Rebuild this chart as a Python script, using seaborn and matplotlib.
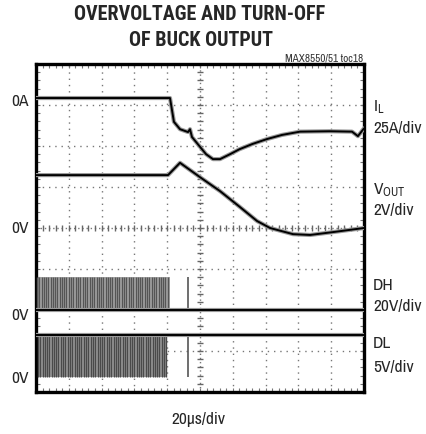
import matplotlib
matplotlib.use("Agg")
import matplotlib.pyplot as plt
import numpy as np
import pandas as pd
import seaborn as sns

# ---------------- data (time in us, level in scope divisions from bottom) ----------------
il_t = [0, 81.7, 84.1, 87.8, 92.7, 93.9, 95.1, 100.0, 103.7, 107.9, 112.2, 118.3,
        124.0, 132.0, 140.9, 150.0, 161.0, 179.0, 192.7, 196.3, 200.0]
il_div = [7.17, 7.17, 6.59, 6.41, 6.34, 6.41, 6.22, 5.98, 5.80, 5.68, 5.68, 5.80,
          5.92, 6.05, 6.17, 6.27, 6.35, 6.36, 6.35, 6.24, 6.43]

vout_t = [0, 80.5, 87.8, 100.0, 112.2, 124.4, 134.8, 142.7, 156.7, 167.1, 181.1, 200.0]
vout_div = [5.29, 5.29, 5.59, 5.24, 4.90, 4.51, 4.17, 4.00, 3.85, 3.83, 3.90, 4.00]

dh_low, dh_high = 2.0, 2.8
dl_low, dl_high = 0.37, 1.39
dh_sw_end = 81.5
dl_sw_end = 80.0
stray_pulse = 92.7

dh_edges = [0.8, 2.1, 3.5, 4.6, 6.2, 7.4, 8.9, 10.3, 11.5, 13.0, 14.6, 15.8, 17.3, 18.5,
            20.1, 21.4, 22.8, 24.3, 25.5, 27.0, 28.6, 29.8, 31.2, 32.7, 34.0, 35.4, 36.9,
            38.2, 39.6, 41.1, 42.4, 43.8, 45.3, 46.6, 48.0, 49.5, 50.8, 52.3, 53.6, 55.1,
            56.5, 57.9, 59.2, 60.7, 62.1, 63.4, 64.9, 66.3, 67.6, 69.0, 70.5, 71.9, 73.2,
            74.7, 76.0, 77.5, 78.8, 80.3]
dl_edges = [1.3, 2.7, 4.0, 5.4, 6.9, 8.1, 9.6, 10.9, 12.3, 13.7, 15.2, 16.5, 17.9, 19.3,
            20.7, 22.0, 23.6, 24.9, 26.3, 27.7, 29.1, 30.5, 31.9, 33.3, 34.7, 36.1, 37.5,
            38.9, 40.3, 41.7, 43.1, 44.5, 45.9, 47.3, 48.7, 50.1, 51.5, 52.9, 54.3, 55.7,
            57.1, 58.5, 59.9, 61.3, 62.7, 64.1, 65.5, 66.9, 68.3, 69.7, 71.1, 72.5, 73.9,
            75.3, 76.7, 78.1, 79.4]

sns.set_theme(style="white")
plt.rcParams['font.family'] = ['Archivo Narrow', 'DejaVu Sans']
title_family = ['Roboto Condensed', 'Barlow Semi Condensed', 'DejaVu Sans']

W, H = 426, 435
fig = plt.figure(figsize=(W / 100, H / 100), dpi=100)
ax = fig.add_axes([36 / W, 1 - 393 / H, 328 / W, 328 / H])
ax.set_xlim(0, 200)
ax.set_ylim(0, 8)
# small graticule ticks along the frame
ax.set_xticks(np.arange(0, 200.1, 4))
ax.set_yticks(np.arange(0, 8.01, 0.2))
ax.tick_params(axis='both', which='both', direction='in', length=3, width=0.8,
               color='#777777', top=True, right=True, bottom=True, left=True,
               labelbottom=False, labelleft=False)
for s in ax.spines.values():
    s.set_linewidth(2.4)
    s.set_color('black')

# graticule
dots = (0, (1, 3.5))
for i in range(1, 10):
    if i != 5:
        ax.axvline(i * 20, color='#777777', lw=1.0, ls=dots, zorder=1)
for j in range(1, 8):
    if j != 4:
        ax.axhline(j, color='#777777', lw=1.0, ls=dots, zorder=1)
ax.axvline(100, color='#777777', lw=1.0, ls=(0, (1, 2)), zorder=1)
ax.axhline(4, color='#777777', lw=1.0, ls=(0, (1, 2)), zorder=1)
minor_x = np.arange(0, 200.1, 4)
minor_y = np.arange(0, 8.01, 0.2)
ax.plot(minor_x, np.full_like(minor_x, 4), ls='none', marker='|', ms=5, color='#666666', zorder=1)
ax.plot(np.full_like(minor_y, 100), minor_y, ls='none', marker='_', ms=5, color='#666666', zorder=1)

# switching gate drives
ax.fill_between([0, dh_sw_end], dh_low, dh_high, color='#a6a6a6', lw=0, zorder=2)
ax.vlines(dh_edges, dh_low, dh_high, color='#555555', lw=1.0, zorder=3)
ax.fill_between([0, dl_sw_end], dl_low, dl_high, color='#999999', lw=0, zorder=2)
ax.vlines(dl_edges, dl_low, dl_high, color='#4a4a4a', lw=1.0, zorder=3)
ax.vlines([stray_pulse], dh_low, dh_high, color='#555555', lw=1.2, zorder=3)
ax.vlines([stray_pulse], dl_low, dl_high, color='#555555', lw=1.2, zorder=3)

traces = {
    'IL': pd.DataFrame({'t': il_t, 'v': il_div}),
    'VOUT': pd.DataFrame({'t': vout_t, 'v': vout_div}),
    'DH': pd.DataFrame({'t': [0, 200], 'v': [dh_low, dh_low]}),
    'DL': pd.DataFrame({'t': [0, 200], 'v': [dl_high, dl_high]}),
}
for name, df in traces.items():
    sns.lineplot(data=df, x='t', y='v', ax=ax, color='#9a9a9a', lw=3.0, zorder=4)
    sns.lineplot(data=df, x='t', y='v', ax=ax, color='black', lw=1.4, zorder=5)
ax.set_xlabel('')
ax.set_ylabel('')


def px(x, y):
    return x / W, 1 - y / H


fs = 12.5
fig.text(*px(200, 14), 'OVERVOLTAGE AND TURN-OFF', ha='center', va='center',
         fontsize=14.5, fontweight='bold', family=title_family)
fig.text(*px(201, 40), 'OF BUCK OUTPUT', ha='center', va='center',
         fontsize=14.5, fontweight='bold', family=title_family)
fig.text(*px(363, 59), 'MAX8550/51 toc18', ha='right', va='center', fontsize=8, color='#333333')

for y, s in [(102, '0A'), (229, '0V'), (316, '0V'), (379, '0V')]:
    fig.text(*px(29, y), s, ha='right', va='center', fontsize=fs)

for y, s in [(107, r'$\mathregular{I_L}$'), (128, '25A/div'),
             (190, r'$\mathregular{V_{OUT}}$'), (210, '2V/div'),
             (286, 'DH'), (307, '20V/div'), (344, 'DL'), (368, '5V/div')]:
    fig.text(*px(373, y), s, ha='left', va='center', fontsize=fs)

fig.text(*px(198, 420), '20\u00b5s/div', ha='center', va='center', fontsize=fs)

fig.savefig('out.png', dpi=100)
